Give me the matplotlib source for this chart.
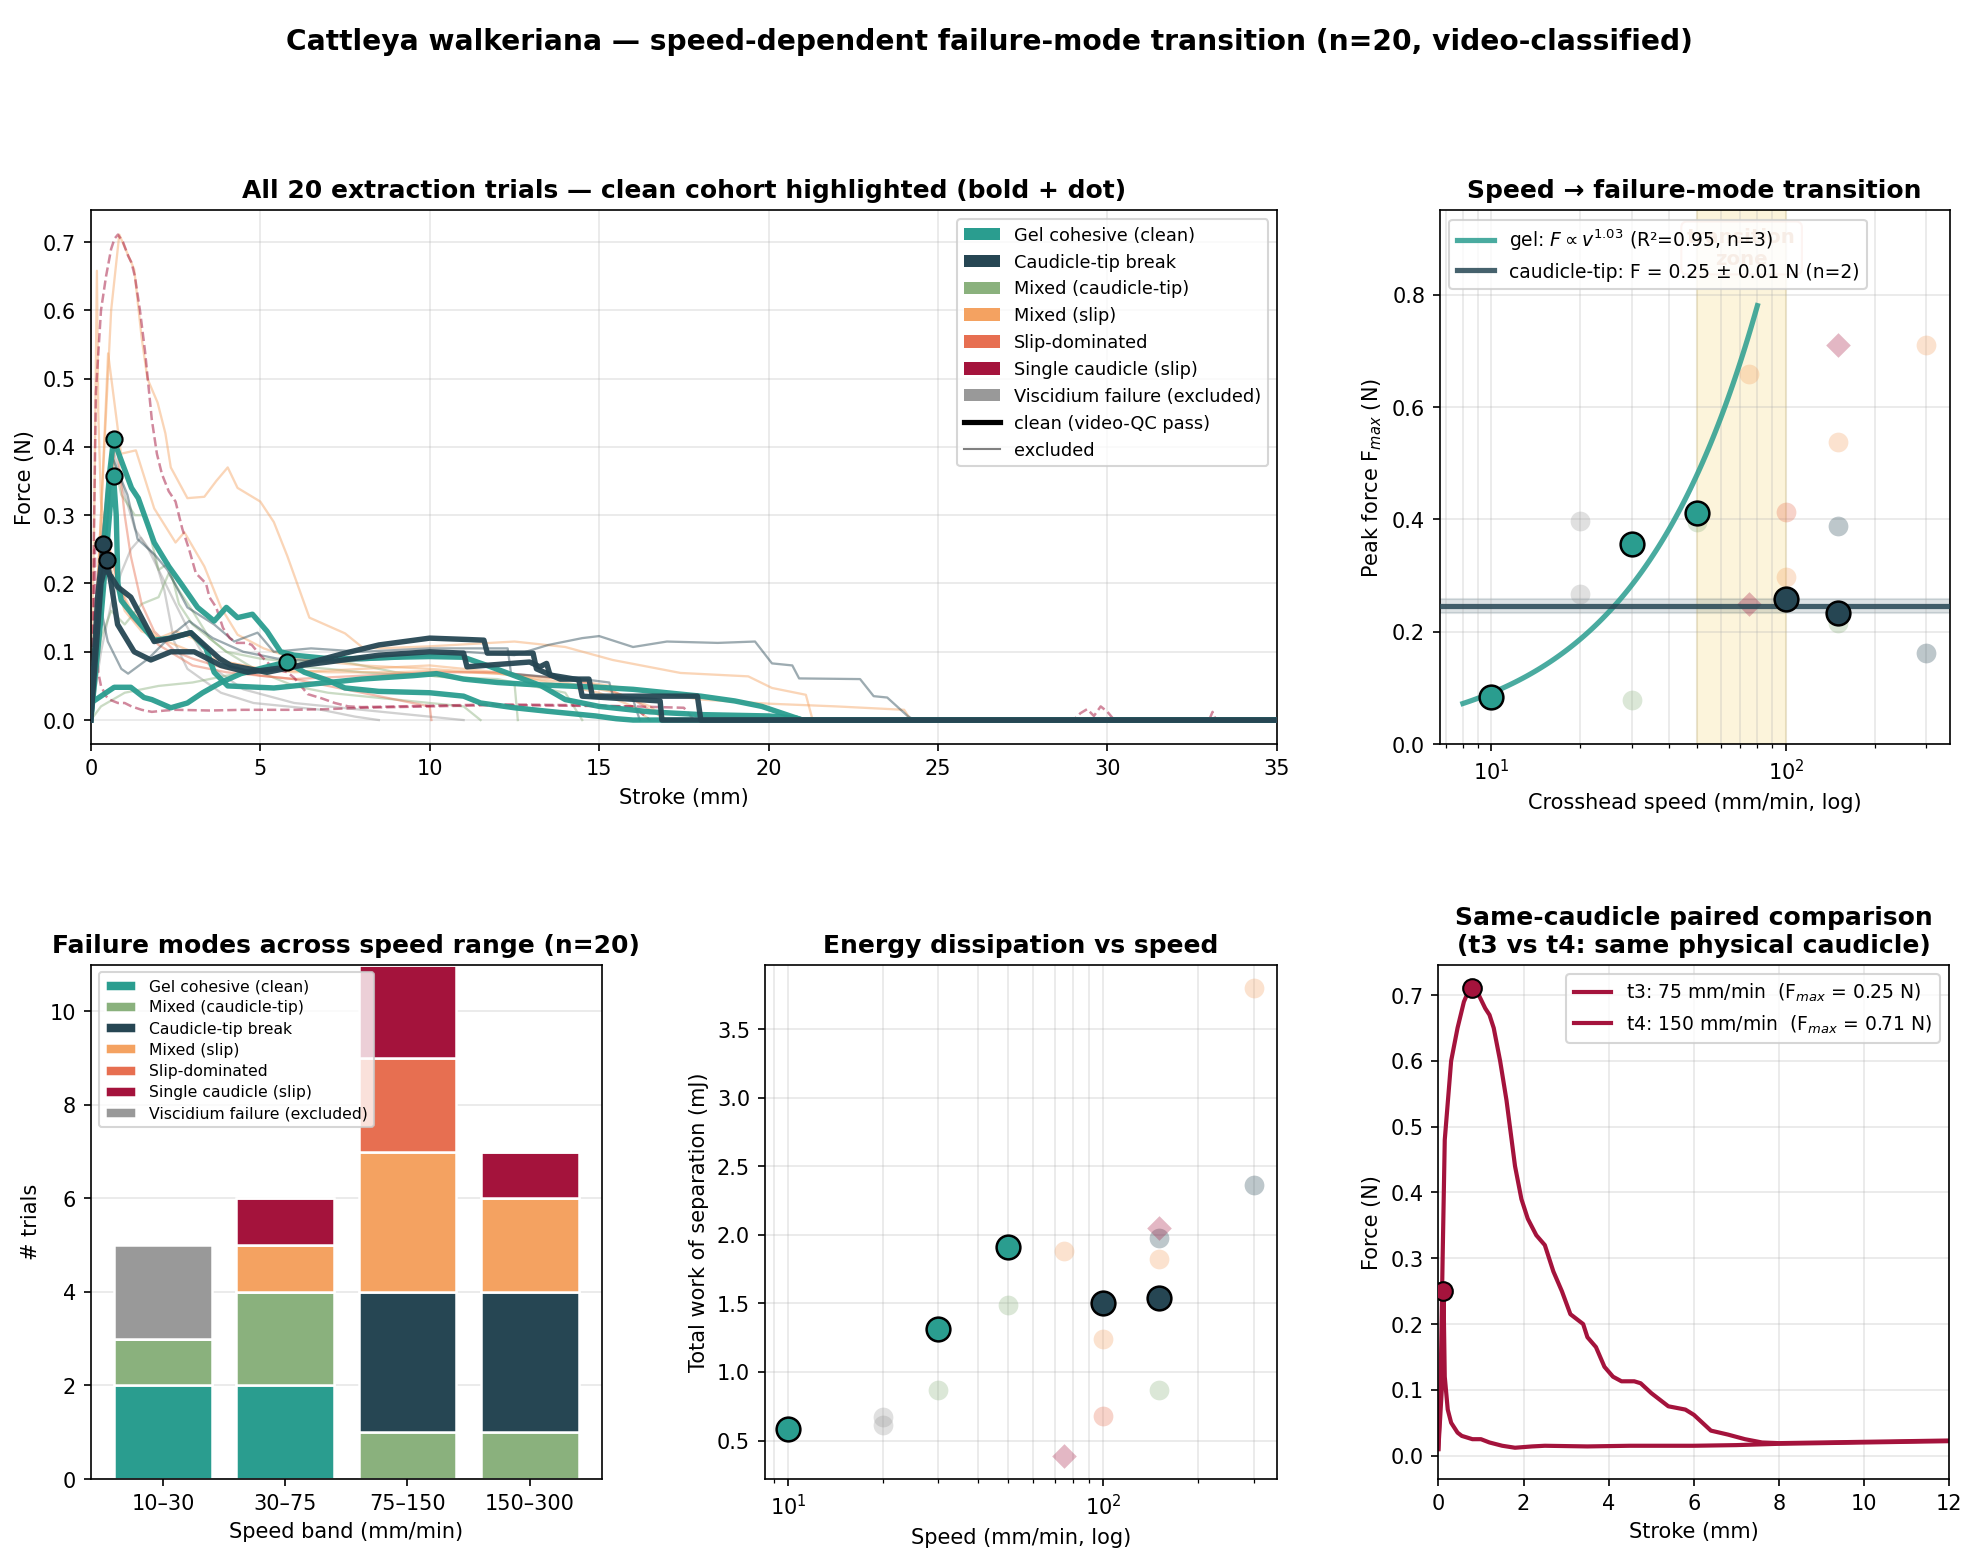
import numpy as np
import matplotlib
matplotlib.use("Agg")
import matplotlib.pyplot as plt
from matplotlib.patches import Patch
from matplotlib.lines import Line2D

# ---------------- categories / colours ----------------
mode_keys = ["gel", "mct", "ct", "mslip", "slip", "single", "visc"]
mode_labels = {
    "gel": "Gel cohesive (clean)",
    "ct": "Caudicle-tip break",
    "mct": "Mixed (caudicle-tip)",
    "mslip": "Mixed (slip)",
    "slip": "Slip-dominated",
    "single": "Single caudicle (slip)",
    "visc": "Viscidium failure (excluded)",
}
mode_colors = {
    "gel": "#2a9d8f", "ct": "#264653", "mct": "#8ab17d", "mslip": "#f4a261",
    "slip": "#e76f51", "single": "#a4133c", "visc": "#999999",
}

# ---------------- per-trial summary ----------------
trial_ids = ["t01", "t02", "t03", "t04", "t05", "t06", "t07", "t08", "t09", "t10",
             "t11", "t12", "t13", "t14", "t15", "t16", "t17", "t18", "t3", "t4"]
speed = [10, 30, 50, 100, 150, 20, 20, 30, 50, 150,
         75, 100, 150, 300, 100, 100, 150, 300, 75, 150]
mode = ["gel", "gel", "gel", "ct", "ct", "visc", "visc", "mct", "mct", "mct",
        "mslip", "mslip", "mslip", "mslip", "slip", "slip", "ct", "ct", "single", "single"]
clean = [True, True, True, True, True] + [False] * 15
fmax = [0.085, 0.357, 0.411, 0.258, 0.234, 0.398, 0.267, 0.079, 0.395, 0.215,
        0.658, 0.297, 0.537, 0.711, 0.414, 0.262, 0.389, 0.163, 0.250, 0.711]
work = [0.585, 1.31, 1.91, 1.50, 1.54, 0.675, 0.615, 0.865, 1.49, 0.865,
        1.88, 1.24, 1.82, 3.80, 0.68, 1.50, 1.975, 2.365, 0.39, 2.05]

# ---------------- force-stroke traces (stroke mm, force N) ----------------
tr01 = ([0, 0.3, 0.69, 1.18, 1.57, 1.8, 2.36, 2.85, 3.3, 3.84, 4.43, 5.2, 5.79, 6.3, 7.0, 7.5, 8.5, 10, 11, 11.5, 12.5, 13.45, 14.9, 15.5, 16, 35],
        [0.025, 0.035, 0.048, 0.048, 0.033, 0.03, 0.018, 0.025, 0.04, 0.055, 0.068, 0.078, 0.085, 0.07, 0.058, 0.047, 0.042, 0.04, 0.035, 0.025, 0.018, 0.013, 0.006, 0.002, 0, 0])
tr02 = ([0, 0.3, 0.6, 0.67, 0.75, 0.8, 0.9, 1.3, 1.87, 2.36, 2.95, 3.4, 3.64, 4.04, 5.4, 6, 7, 8, 9.5, 10.2, 11, 12, 13, 14, 15, 16, 17, 18, 19, 19.8, 20.4, 21, 35],
        [0, 0.15, 0.33, 0.357, 0.3, 0.2, 0.175, 0.15, 0.117, 0.12, 0.128, 0.105, 0.07, 0.05, 0.047, 0.05, 0.055, 0.06, 0.065, 0.068, 0.06, 0.055, 0.052, 0.05, 0.048, 0.045, 0.04, 0.035, 0.028, 0.02, 0.01, 0, 0])
tr03 = ([0, 0.3, 0.55, 0.67, 0.9, 1.2, 1.4, 1.87, 2.3, 2.66, 3.15, 3.64, 4.0, 4.33, 4.77, 5.2, 5.6, 6, 7, 8, 9, 10, 11, 11.8, 12.5, 13.3, 14, 15, 16.5, 18, 20, 20.8, 21, 35],
        [0, 0.2, 0.36, 0.411, 0.38, 0.34, 0.325, 0.26, 0.225, 0.2, 0.165, 0.145, 0.165, 0.15, 0.155, 0.13, 0.1, 0.095, 0.09, 0.09, 0.092, 0.093, 0.092, 0.078, 0.065, 0.05, 0.03, 0.02, 0.012, 0.008, 0.006, 0.003, 0, 0])
tr04 = ([0, 0.2, 0.37, 0.45, 0.6, 0.79, 1.18, 1.5, 1.87, 2.36, 2.95, 3.35, 3.8, 4.13, 5.2, 6, 7.5, 8.5, 10, 11.1, 11.6, 11.7, 13.05, 13.15, 13.85, 14.7, 14.8, 17.9, 18.0, 35],
        [0, 0.18, 0.258, 0.22, 0.21, 0.195, 0.18, 0.15, 0.115, 0.12, 0.128, 0.11, 0.09, 0.08, 0.07, 0.078, 0.098, 0.11, 0.12, 0.118, 0.117, 0.098, 0.098, 0.075, 0.06, 0.06, 0.035, 0.035, 0, 0])
tr05 = ([0, 0.3, 0.47, 0.6, 0.79, 1.28, 1.77, 2.36, 3.05, 3.84, 4.63, 5.4, 7, 8.5, 10, 11, 11.1, 12.95, 13.25, 13.45, 13.55, 14.4, 14.5, 16.8, 16.85, 35],
        [0, 0.2, 0.234, 0.2, 0.14, 0.1, 0.088, 0.1, 0.1, 0.08, 0.07, 0.075, 0.085, 0.095, 0.1, 0.098, 0.078, 0.085, 0.078, 0.083, 0.066, 0.059, 0.035, 0.028, 0, 0])
tr06 = ([0, 0.2, 0.45, 0.65, 1.0, 1.3, 1.7, 2.2, 2.8, 3.5, 4.5, 6, 8, 10, 11],
        [0, 0.15, 0.33, 0.398, 0.33, 0.28, 0.25, 0.2, 0.14, 0.08, 0.045, 0.025, 0.015, 0.005, 0])
tr07 = ([0, 0.3, 0.6, 0.89, 1.18, 1.48, 1.87, 2.17, 2.46, 2.85, 3.84, 4.8, 6.8, 7.8, 8.5],
        [0, 0.1, 0.17, 0.215, 0.25, 0.267, 0.24, 0.19, 0.115, 0.075, 0.04, 0.025, 0.015, 0.005, 0])
tr08 = ([0, 0.3, 1, 2, 3, 4, 5, 6, 7, 8, 9, 10, 11, 12, 12.5, 12.6],
        [0, 0.02, 0.04, 0.05, 0.055, 0.065, 0.072, 0.079, 0.075, 0.07, 0.067, 0.065, 0.062, 0.06, 0.055, 0])
tr09 = ([0, 0.3, 0.6, 0.9, 1.3, 1.6, 2.0, 2.3, 2.6, 3, 3.5, 4, 5, 6, 7, 8, 9, 10, 11, 12, 13, 14, 14.5],
        [0, 0.2, 0.395, 0.33, 0.3, 0.3, 0.22, 0.23, 0.17, 0.14, 0.12, 0.1, 0.09, 0.085, 0.09, 0.08, 0.07, 0.065, 0.06, 0.055, 0.05, 0.04, 0])
tr10 = ([0, 0.3, 0.6, 1, 1.5, 2, 2.3, 2.6, 3, 3.5, 4, 5, 6, 7, 8, 9, 10, 11, 11.5],
        [0, 0.12, 0.16, 0.14, 0.17, 0.18, 0.215, 0.19, 0.16, 0.12, 0.1, 0.07, 0.05, 0.04, 0.035, 0.03, 0.025, 0.02, 0])
tr11 = ([0, 0.1, 0.18, 0.22, 0.3, 0.5, 0.8, 1.2, 1.6, 2, 3, 4, 5, 7, 9, 10, 12, 14, 16, 18, 20, 22, 24, 24.2],
        [0, 0.3, 0.658, 0.45, 0.32, 0.26, 0.2, 0.16, 0.14, 0.12, 0.1, 0.085, 0.075, 0.07, 0.07, 0.072, 0.068, 0.06, 0.045, 0.03, 0.024, 0.02, 0.015, 0])
tr12 = ([0, 0.2, 0.35, 0.6, 1, 1.5, 2, 2.5, 3, 3.5, 4, 5, 6, 8, 10, 12, 13, 14, 15, 16, 16.5],
        [0, 0.2, 0.297, 0.22, 0.16, 0.13, 0.12, 0.13, 0.12, 0.1, 0.085, 0.075, 0.07, 0.075, 0.08, 0.07, 0.06, 0.05, 0.04, 0.02, 0])
tr13 = ([0, 0.3, 0.51, 0.89, 1.33, 1.87, 2.5, 2.76, 3.35, 3.84, 4.33, 5.1, 6, 8, 10, 12, 14, 15.5, 16.5, 17],
        [0, 0.3, 0.537, 0.39, 0.395, 0.31, 0.26, 0.275, 0.225, 0.165, 0.125, 0.105, 0.09, 0.08, 0.075, 0.068, 0.055, 0.04, 0.02, 0])
tr14 = ([0, 0.3, 0.6, 0.84, 1.28, 1.5, 1.67, 1.97, 2.2, 2.36, 2.85, 3.35, 3.7, 4.04, 4.33, 5.0, 5.4, 5.8, 6.45, 7.5, 8.0, 8.5, 10, 12.5, 14, 15.4, 17.4, 19.4, 20.1, 21.1, 21.3],
        [0, 0.3, 0.6, 0.711, 0.66, 0.56, 0.5, 0.465, 0.42, 0.37, 0.325, 0.327, 0.35, 0.37, 0.34, 0.32, 0.29, 0.24, 0.15, 0.127, 0.107, 0.105, 0.108, 0.115, 0.107, 0.088, 0.069, 0.064, 0.047, 0.037, 0])
tr15 = ([0, 0.4, 0.74, 1.0, 1.18, 1.5, 1.87, 2.5, 3, 4, 5, 6, 7, 8, 9, 10, 10.05],
        [0, 0.25, 0.414, 0.3, 0.24, 0.17, 0.13, 0.1, 0.09, 0.075, 0.065, 0.06, 0.05, 0.04, 0.03, 0.02, 0])
tr16 = ([0, 0.3, 0.5, 0.8, 1.2, 2, 3, 4, 6, 8, 10, 12, 14, 15, 16, 17],
        [0, 0.15, 0.262, 0.2, 0.15, 0.11, 0.08, 0.07, 0.06, 0.065, 0.07, 0.07, 0.06, 0.05, 0.03, 0])
tr17 = ([0, 0.3, 0.6, 1.08, 1.38, 1.87, 2.26, 2.85, 3.64, 4.23, 4.92, 5.4, 6.5, 8, 10, 12.3, 12.4, 13.3, 14.5, 15.3, 15.4, 16, 16.2],
        [0, 0.25, 0.389, 0.33, 0.265, 0.243, 0.22, 0.165, 0.14, 0.115, 0.128, 0.1, 0.105, 0.1, 0.105, 0.105, 0.068, 0.064, 0.06, 0.055, 0.037, 0.03, 0])
tr18 = ([0, 0.15, 0.3, 0.5, 0.9, 1.1, 1.7, 2.4, 2.9, 3.6, 4.5, 5.5, 7, 9, 11, 12.5, 13.5, 14.5, 15, 16, 17, 18.5, 19.6, 20.1, 20.7, 20.9, 22.7, 23.1, 23.5, 24.1, 24.3],
        [0, 0.12, 0.163, 0.115, 0.075, 0.068, 0.09, 0.125, 0.145, 0.12, 0.1, 0.09, 0.085, 0.09, 0.1, 0.095, 0.11, 0.12, 0.123, 0.107, 0.115, 0.113, 0.115, 0.083, 0.08, 0.061, 0.06, 0.035, 0.033, 0.006, 0])
tr_t3 = ([0, 0.08, 0.12, 0.15, 0.22, 0.3, 0.45, 0.55, 0.8, 1.0, 1.2, 1.5, 1.8, 2.2, 2.5, 3.5, 4.5, 6, 7, 8, 10, 12, 14, 16, 16.5],
         [0.01, 0.1, 0.25, 0.12, 0.07, 0.05, 0.035, 0.03, 0.025, 0.025, 0.02, 0.015, 0.012, 0.014, 0.015, 0.014, 0.015, 0.015, 0.016, 0.018, 0.02, 0.022, 0.021, 0.02, 0])
tr_t4 = ([0, 0.05, 0.1, 0.15, 0.2, 0.3, 0.45, 0.6, 0.7, 0.8, 0.95, 1.1, 1.2, 1.3, 1.45, 1.6, 1.8, 1.95, 2.1, 2.3, 2.5, 2.7, 2.9, 3.1, 3.3, 3.4, 3.5, 3.7, 3.9, 4.1, 4.3, 4.6, 4.75, 5.0, 5.2, 5.4, 5.8, 6.0, 6.2, 6.4, 6.8, 7.2, 7.6, 8.0, 10, 12, 14, 16, 17.5, 17.8,
          29.0, 29.2, 29.4, 29.6, 29.8, 30.0, 30.2, 33.0, 33.1, 33.2, 35],
         [0.01, 0.1, 0.3, 0.48, 0.52, 0.6, 0.65, 0.69, 0.705, 0.711, 0.7, 0.68, 0.67, 0.65, 0.6, 0.54, 0.44, 0.39, 0.36, 0.335, 0.32, 0.28, 0.25, 0.215, 0.205, 0.2, 0.18, 0.165, 0.135, 0.12, 0.113, 0.113, 0.11, 0.095, 0.085, 0.075, 0.07, 0.062, 0.05, 0.038, 0.032, 0.025, 0.02, 0.019, 0.021, 0.023, 0.022, 0.02, 0.018, 0,
          0, 0.01, 0.016, 0.006, 0.02, 0.012, 0, 0, 0.012, 0, 0])
traces = [tr01, tr02, tr03, tr04, tr05, tr06, tr07, tr08, tr09, tr10,
          tr11, tr12, tr13, tr14, tr15, tr16, tr17, tr18, tr_t3, tr_t4]

# ---------------- bar chart counts ----------------
bands = ["10–30", "30–75", "75–150", "150–300"]
cnt_gel = [2, 2, 0, 0]
cnt_mct = [1, 2, 1, 1]
cnt_ct = [0, 0, 3, 3]
cnt_mslip = [0, 1, 3, 2]
cnt_slip = [0, 0, 2, 0]
cnt_single = [0, 1, 2, 1]
cnt_visc = [2, 0, 0, 0]
band_counts = {"gel": cnt_gel, "mct": cnt_mct, "ct": cnt_ct, "mslip": cnt_mslip,
               "slip": cnt_slip, "single": cnt_single, "visc": cnt_visc}

# ---------------- figure ----------------
plt.rcParams["font.family"] = ["DejaVu Sans"]
plt.rcParams["font.size"] = 10
fig = plt.figure(figsize=(13.19, 10.41), dpi=150)
fig.suptitle("Cattleya walkeriana — speed-dependent failure-mode transition (n=20, video-classified)",
             fontsize=13.5, fontweight="bold", y=0.982)

ax1 = fig.add_axes([0.0459, 0.523, 0.5995, 0.342])
ax2 = fig.add_axes([0.7277, 0.523, 0.2577, 0.342])
ax3 = fig.add_axes([0.0459, 0.0525, 0.2583, 0.3295])
ax4 = fig.add_axes([0.3865, 0.0525, 0.2590, 0.3295])
ax5 = fig.add_axes([0.7270, 0.0525, 0.2583, 0.3295])
TITLE_KW = dict(fontsize=12, fontweight="bold")

# ---- panel 1: all traces ----
for (s, f), m, c in zip(traces, mode, clean):
    col = mode_colors[m]
    if c:
        continue
    if m == "single":
        ax1.plot(s, f, color=col, lw=1.2, ls="--", alpha=0.5, zorder=2)
    else:
        ax1.plot(s, f, color=col, lw=1.1, alpha=0.45, zorder=2)
for (s, f), m, c in zip(traces, mode, clean):
    if not c:
        continue
    col = mode_colors[m]
    ax1.plot(s, f, color=col, lw=2.6, alpha=0.95, zorder=3)
    i = int(np.argmax(f))
    ax1.scatter([s[i]], [f[i]], s=60, color=col, edgecolor="black", lw=1.0, zorder=5)
ax1.set_xlim(0, 35)
ax1.set_xlabel("Stroke (mm)")
ax1.set_ylabel("Force (N)")
ax1.set_title("All 20 extraction trials — clean cohort highlighted (bold + dot)", **TITLE_KW)
ax1.grid(alpha=0.3)
leg_order = ["gel", "ct", "mct", "mslip", "slip", "single", "visc"]
handles = [Patch(facecolor=mode_colors[k], label=mode_labels[k]) for k in leg_order]
handles += [Line2D([0], [0], color="black", lw=2.5, label="clean (video-QC pass)"),
            Line2D([0], [0], color="grey", lw=1, label="excluded")]
ax1.legend(handles=handles, loc="upper right", fontsize=8.5)

# ---- panel 2: peak force vs speed ----
ax2.axvspan(50, 100, color="#f2c94c", alpha=0.2, zorder=0)
ax2.text(np.sqrt(50 * 100), 0.883, "transition\nzone", ha="center", va="center",
         fontsize=9.5, fontweight="bold", color="#d9a07a", alpha=0.9, zorder=1,
         bbox=dict(boxstyle="round,pad=0.3", fc="white", ec="#e76f51", alpha=0.35))


def scatter_modes(ax, yvals):
    for v, y, m, c in zip(speed, yvals, mode, clean):
        if c:
            continue
        mk = "D" if m == "single" else "o"
        sz = 70 if m == "single" else 90
        ax.scatter(v, y, s=sz, marker=mk, color=mode_colors[m], alpha=0.3, lw=0, zorder=2)
    for v, y, m, c in zip(speed, yvals, mode, clean):
        if not c:
            continue
        ax.scatter(v, y, s=130, color=mode_colors[m], edgecolor="black", lw=1.2, zorder=4)


scatter_modes(ax2, fmax)
gel_v = np.array([v for v, m, c in zip(speed, mode, clean) if c and m == "gel"], float)
gel_f = np.array([f for f, m, c in zip(fmax, mode, clean) if c and m == "gel"], float)
b, a = np.polyfit(np.log10(gel_v), np.log10(gel_f), 1)
pred = a + b * np.log10(gel_v)
r2 = 1 - np.sum((np.log10(gel_f) - pred) ** 2) / np.sum((np.log10(gel_f) - np.log10(gel_f).mean()) ** 2)
vv = np.logspace(np.log10(8), np.log10(80), 120)
ax2.plot(vv, 10 ** a * vv ** b, color=mode_colors["gel"], lw=2.5, alpha=0.85, zorder=3,
         label=f"gel: $F \\propto v^{{{b:.2f}}}$ (R²={r2:.2f}, n={len(gel_v)})")
ct_f = np.array([f for f, m, c in zip(fmax, mode, clean) if c and m == "ct"], float)
ct_mean = ct_f.mean()
ct_sem = ct_f.std(ddof=1) / np.sqrt(len(ct_f))
ax2.axhline(ct_mean, color=mode_colors["ct"], lw=2.5, alpha=0.85, zorder=3,
            label=f"caudicle-tip: F = {ct_mean:.2f} ± {ct_sem:.2f} N (n={len(ct_f)})")
ax2.axhspan(ct_mean - ct_sem, ct_mean + ct_sem, color=mode_colors["ct"], alpha=0.15, zorder=1)
ax2.set_xscale("log")
ax2.set_ylim(0, 0.95)
ax2.set_xlabel("Crosshead speed (mm/min, log)")
ax2.set_ylabel("Peak force F$_{max}$ (N)")
ax2.set_title("Speed → failure-mode transition", **TITLE_KW)
ax2.grid(alpha=0.3, which="both")
ax2.legend(loc="upper left", fontsize=9)

# ---- panel 3: stacked bars ----
x = np.arange(len(bands))
bottom = np.zeros(len(bands))
for k in mode_keys:
    vals = np.array(band_counts[k], float)
    ax3.bar(x, vals, 0.8, bottom=bottom, color=mode_colors[k], edgecolor="white", lw=1.2,
            label=mode_labels[k])
    bottom += vals
ax3.set_xticks(x)
ax3.set_xticklabels(bands)
ax3.set_ylim(0, 11)
ax3.set_xlabel("Speed band (mm/min)")
ax3.set_ylabel("# trials")
ax3.set_title("Failure modes across speed range (n=20)", **TITLE_KW)
ax3.grid(alpha=0.3, axis="y")
ax3.set_axisbelow(True)
ax3.legend(loc="upper left", fontsize=7.5, labelspacing=0.4)

# ---- panel 4: energy ----
scatter_modes(ax4, work)
ax4.set_xscale("log")
ax4.set_xlabel("Speed (mm/min, log)")
ax4.set_ylabel("Total work of separation (mJ)")
ax4.set_title("Energy dissipation vs speed", **TITLE_KW)
ax4.grid(alpha=0.3, which="both")

# ---- panel 5: paired t3 vs t4 ----
col = mode_colors["single"]
for tr, lbl, v in [(tr_t3, "t3", 75), (tr_t4, "t4", 150)]:
    s, f = tr
    i = int(np.argmax(f))
    ax5.plot(s, f, color=col, lw=2,
             label=f"{lbl}: {v} mm/min  (F$_{{max}}$ = {f[i]:.2f} N)")
    ax5.scatter([s[i]], [f[i]], s=80, color=col, edgecolor="black", lw=1.0, zorder=5)
ax5.set_xlim(0, 12)
ax5.set_xlabel("Stroke (mm)")
ax5.set_ylabel("Force (N)")
ax5.set_title("Same-caudicle paired comparison\n(t3 vs t4: same physical caudicle)", **TITLE_KW)
ax5.grid(alpha=0.3)
ax5.legend(loc="upper right", fontsize=9)

fig.savefig("out.png", dpi=150)
